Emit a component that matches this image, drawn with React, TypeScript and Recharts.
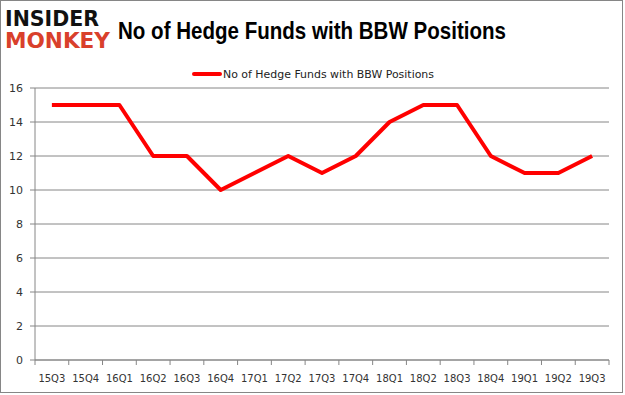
import { LineChart, Line, XAxis, YAxis, CartesianGrid } from 'recharts';

const quarters = ['15Q3', '15Q4', '16Q1', '16Q2', '16Q3', '16Q4', '17Q1', '17Q2', '17Q3', '17Q4', '18Q1', '18Q2', '18Q3', '18Q4', '19Q1', '19Q2', '19Q3'];
const funds = [15, 15, 15, 12, 12, 10, 11, 12, 11, 12, 14, 15, 15, 12, 11, 11, 12];
const yTicks = [0, 2, 4, 6, 8, 10, 12, 14, 16];
const seriesName = 'No of Hedge Funds with BBW Positions';

const data = quarters.map((q, i) => ({ q, funds: funds[i] }));

const W = 625;
const H = 395;
const M = { top: 88, right: 16, bottom: 0, left: 0 };
const Y_W = 35;
const HALF_BAND = (W - M.right - M.left - Y_W) / quarters.length / 2;

const tickFont = { fontFamily: 'DejaVu Sans', fontSize: 10, fill: '#333' };

function XTick(props: any) {
  const { x, y, payload, index } = props;
  const axisY = y - 8;
  return (
    <g>
      <line x1={x - HALF_BAND} x2={x - HALF_BAND} y1={axisY} y2={axisY + 5} stroke="#868686" />
      {index === quarters.length - 1 && (
        <line x1={x + HALF_BAND} x2={x + HALF_BAND} y1={axisY} y2={axisY + 5} stroke="#868686" />
      )}
      <text x={x} y={y + 14} textAnchor="middle" {...tickFont}>
        {payload.value}
      </text>
    </g>
  );
}

export default function App() {
  return (
    <div style={{ position: 'absolute', left: 0, top: 0, width: W, height: H, background: '#fff' }}>
      <div style={{ position: 'absolute', left: 0, top: 0, width: 623, height: 393, border: '1px solid #868686', boxSizing: 'border-box' }} />
      <LineChart width={W} height={H} data={data} margin={M}>
        <CartesianGrid vertical={false} stroke="#868686" />
        <XAxis
          dataKey="q"
          height={35}
          stroke="#868686"
          tickLine={false}
          interval={0}
          padding={{ left: HALF_BAND, right: HALF_BAND }}
          tick={<XTick />}
        />
        <YAxis
          domain={[0, 16]}
          ticks={yTicks}
          width={Y_W}
          stroke="#868686"
          tickSize={5}
          tickMargin={7}
          tick={{ ...tickFont, fontSize: 11 }}
          interval={0}
        />
        <Line
          type="linear"
          dataKey="funds"
          name={seriesName}
          stroke="#ff0000"
          strokeWidth={4}
          strokeLinejoin="round"
          dot={false}
          isAnimationActive={false}
        />
      </LineChart>
      <svg width={W} height={85} style={{ position: 'absolute', left: 0, top: 0, pointerEvents: 'none' }}>
        <text x={5} y={26} textLength={94} lengthAdjust="spacingAndGlyphs" fontFamily="DejaVu Sans" fontWeight="bold" fontSize={21} fill="#111">
          INSIDER
        </text>
        <text x={5} y={48} textLength={105} lengthAdjust="spacingAndGlyphs" fontFamily="DejaVu Sans" fontWeight="bold" fontSize={21} fill="#d9402b">
          MONKEY
        </text>
        <text x={118} y={39} textLength={388} lengthAdjust="spacingAndGlyphs" fontFamily="Liberation Sans" fontWeight="bold" fontSize={24} fill="#000">
          {seriesName}
        </text>
        <line x1={194} x2={220} y1={74} y2={74} stroke="#ff0000" strokeWidth={4} strokeLinecap="round" />
        <text x={223} y={78} textLength={211} lengthAdjust="spacingAndGlyphs" fontFamily="DejaVu Sans" fontSize={11} fill="#222">
          {seriesName}
        </text>
      </svg>
    </div>
  );
}
